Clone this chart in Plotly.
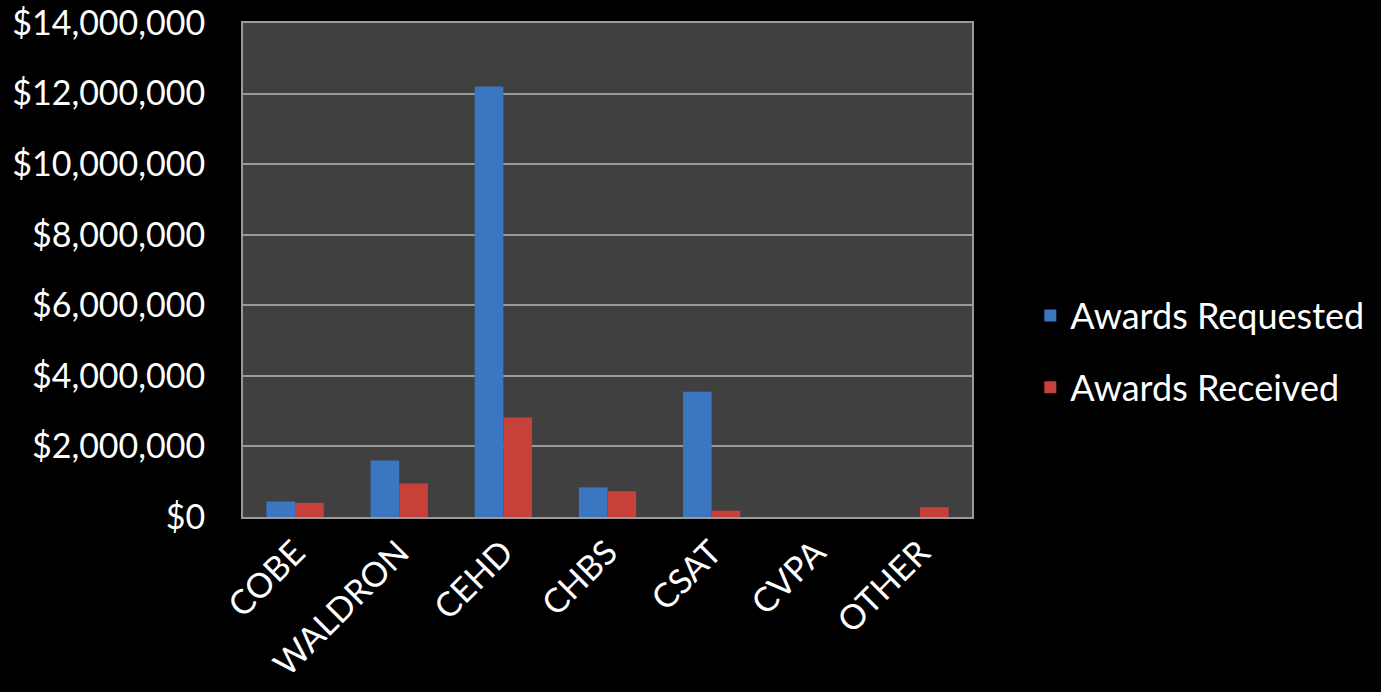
import plotly.graph_objects as go

categories = ["COBE", "WALDRON", "CEHD", "CHBS", "CSAT", "CVPA", "OTHER"]
requested = [440000, 1600000, 12200000, 840000, 3550000, 0, 0]
received = [400000, 950000, 2820000, 730000, 180000, 0, 280000]

FONT = "Lato, Carlito, 'Open Sans', sans-serif"

fig = go.Figure()
fig.add_trace(go.Bar(
    x=categories, y=requested, name="Awards Requested",
    marker=dict(color="#3B76C2", line=dict(width=0)),
    legendgroup="a",
))
fig.add_trace(go.Bar(
    x=categories, y=received, name="Awards Received",
    marker=dict(color="#C8403A", line=dict(width=0)),
    legendgroup="b",
))

fig.update_layout(
    width=1381, height=692,
    paper_bgcolor="black", plot_bgcolor="#404040",
    margin=dict(l=243, r=404, t=23, b=175),
    barmode="group", bargap=0.45, bargroupgap=0,
    font=dict(family=FONT, color="white", size=34),
    legend=dict(
        x=1.08, y=0.335, xanchor="left", yanchor="middle",
        font=dict(size=36, color="white"),
        tracegroupgap=22, traceorder="grouped",
        bgcolor="rgba(0,0,0,0)",
    ),
    xaxis=dict(
        tickangle=-45, showline=True, linecolor="#9a9a9a", linewidth=2,
        mirror=True, ticks="", tickfont=dict(size=34), automargin=False,
    ),
    yaxis=dict(
        range=[0, 14000000], dtick=2000000, tickprefix="$", tickformat=",.0f",
        showgrid=True, gridcolor="#9a9a9a", gridwidth=1.5,
        showline=True, linecolor="#9a9a9a", linewidth=2, mirror=True,
        ticks="", tickfont=dict(size=34), zeroline=False, automargin=False,
        ticklabelstandoff=29, ticklabeloverflow="allow",
    ),
)

fig.write_html("out.html", config={"displayModeBar": False})

with open("out.html", "r", encoding="utf-8") as f:
    html = f.read()
html = html.replace("<head>", "<head><style>html,body{margin:0;padding:0;background:black;overflow:hidden}</style>", 1)
with open("out.html", "w", encoding="utf-8") as f:
    f.write(html)
